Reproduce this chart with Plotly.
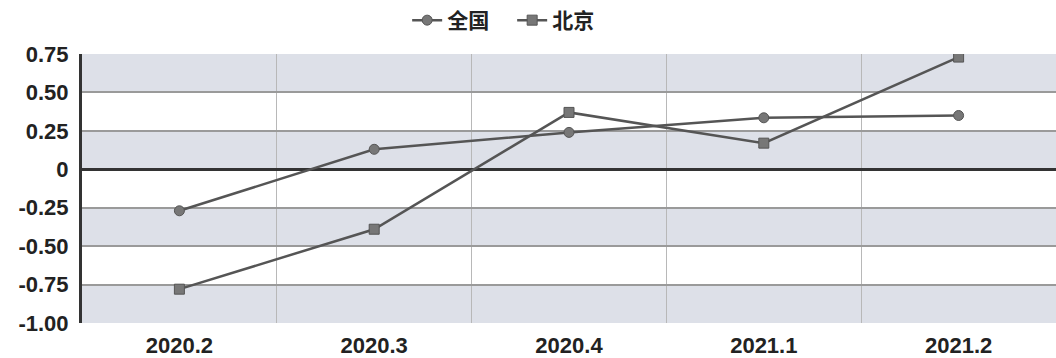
import plotly.graph_objects as go

categories = ["2020.2", "2020.3", "2020.4", "2021.1", "2021.2"]
national = [-0.27, 0.13, 0.24, 0.335, 0.35]
beijing = [-0.78, -0.39, 0.37, 0.17, 0.73]
y_tickvals = [0.75, 0.5, 0.25, 0, -0.25, -0.5, -0.75, -1.0]
y_ticktext = ["0.75", "0.50", "0.25", "0", "-0.25", "-0.50", "-0.75", "-1.00"]
bands = [(0.5, 0.75), (0.0, 0.25), (-0.5, -0.25), (-1.0, -0.75)]

fig = go.Figure()
fig.add_trace(go.Scatter(
    x=categories, y=national, name="全国", mode="lines+markers",
    line=dict(color="#555555", width=2.5),
    marker=dict(symbol="circle", size=10, color="#777777", line=dict(color="#555555", width=1)),
))
fig.add_trace(go.Scatter(
    x=categories, y=beijing, name="北京", mode="lines+markers",
    line=dict(color="#555555", width=2.5),
    marker=dict(symbol="square", size=10, color="#777777", line=dict(color="#555555", width=1)),
))

shapes = []
for lo, hi in bands:
    shapes.append(dict(type="rect", xref="paper", yref="y", x0=0, x1=1, y0=lo, y1=hi,
                       fillcolor="#dde0e8", line=dict(width=0), layer="below"))
fig.update_layout(shapes=shapes)

fig.update_layout(
    width=1056, height=358,
    margin=dict(l=82, r=0, t=54, b=35),
    paper_bgcolor="white", plot_bgcolor="white",
    font=dict(family="Liberation Sans, Arial, sans-serif", color="#222222"),
    showlegend=True,
    legend=dict(orientation="h", xref="container", x=0.485, xanchor="center",
                yref="container", y=1.0, yanchor="top",
                font=dict(family="Noto Sans CJK SC", size=21, weight="bold", color="#222222"),
                itemwidth=30, entrywidth=60, bgcolor="rgba(0,0,0,0)"),
    xaxis=dict(type="category", range=[-0.5, 4.5], tickson="boundaries",
               showgrid=True, gridcolor="#b8b8b8", gridwidth=1,
               ticks="", showline=False, zeroline=False, ticklabelstandoff=7,
               tickfont=dict(size=22, weight="bold", color="#222222")),
    yaxis=dict(range=[-1.0, 0.75], tickvals=y_tickvals, ticktext=y_ticktext,
               showgrid=True, gridcolor="#9a9a9a", gridwidth=1.5,
               zeroline=True, zerolinecolor="#333333", zerolinewidth=2.5,
               showline=True, linecolor="#333333", linewidth=3,
               ticks="", ticklabelstandoff=6,
               tickfont=dict(size=22, weight="bold", color="#222222")),
)

fig.write_html("out.html")
